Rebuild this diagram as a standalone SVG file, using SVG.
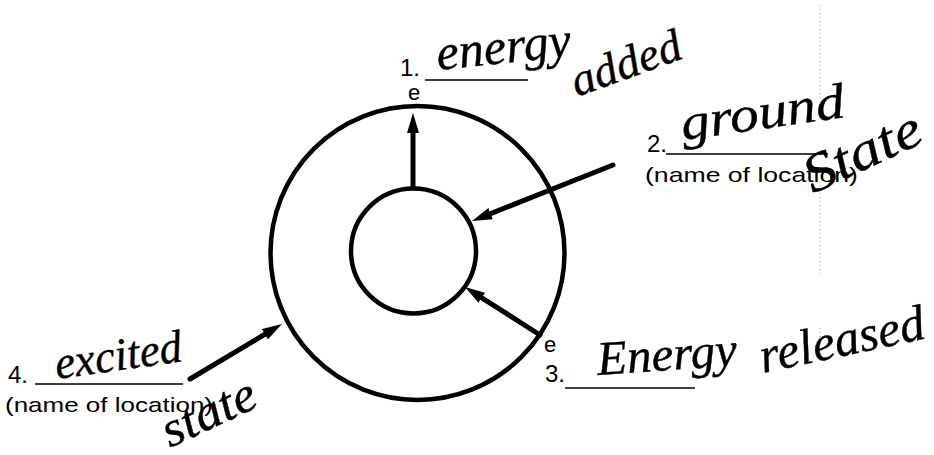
<svg xmlns="http://www.w3.org/2000/svg" width="934" height="455" viewBox="0 0 934 455">
<defs>
<style>
.ring{fill:none;stroke:#000;stroke-width:4.5}
.shaft{fill:none;stroke:#000;stroke-width:5;stroke-linecap:round}
.print{font-family:"Liberation Sans",Arial,sans-serif;fill:#000}
.num{font-size:24px}
.sub{font-size:21px}
.el{font-size:22px}
.uline{stroke:#000;stroke-width:1.6}
.hand{font-family:"Liberation Serif","DejaVu Serif",serif;font-style:italic;fill:#000;stroke:#000;stroke-width:0.4}
.scan{stroke:#9a9a9a;stroke-width:1;stroke-dasharray:1 3}
</style>
<marker id="head" viewBox="0 -6 20 12" refX="0" refY="0" markerWidth="20" markerHeight="12" markerUnits="userSpaceOnUse" orient="auto">
<path d="M0,-6 L20,0 L0,6 z" fill="#000"/>
</marker>
</defs>
<rect width="934" height="455" fill="#fff"/>
<g id="scan-artifacts">
<line class="scan" x1="820" y1="5" x2="820" y2="100"/>
<line class="scan" x1="820" y1="185" x2="820" y2="277"/>
<line class="scan" x1="820" y1="328" x2="820" y2="346"/>
</g>
<g id="outer-shell"><circle class="ring" cx="417.5" cy="253" r="147"/></g>
<g id="nucleus"><circle class="ring" cx="413.5" cy="251" r="62.5"/></g>
<g id="connectors">
<line class="shaft" x1="413" y1="186" x2="413" y2="133" marker-end="url(#head)"/>
<line class="shaft" x1="613" y1="165" x2="490.6" y2="213.6" marker-end="url(#head)"/>
<line class="shaft" x1="540" y1="335" x2="481.8" y2="297.8" marker-end="url(#head)"/>
<line class="shaft" x1="190" y1="379" x2="264.8" y2="334.3" marker-end="url(#head)"/>
</g>
<g id="label-1">
<text class="print num" x="400" y="76">1.</text>
<line class="uline" x1="425" y1="80" x2="528" y2="80"/>
<text class="print el" x="408" y="100">e</text>
<text class="hand" font-size="50" x="438" y="70" textLength="135" lengthAdjust="spacingAndGlyphs" transform="rotate(-6 438 70)">energy</text>
<text class="hand" font-size="46" x="577" y="97" textLength="115" lengthAdjust="spacingAndGlyphs" transform="rotate(-20 577 97)">added</text>
</g>
<g id="label-2">
<text class="print num" x="647" y="152">2.</text>
<line class="uline" x1="666" y1="154" x2="828" y2="154"/>
<text class="print sub" x="645" y="182" textLength="213" lengthAdjust="spacingAndGlyphs">(name of location)</text>
<text class="hand" font-size="50" x="683" y="140" textLength="165" lengthAdjust="spacingAndGlyphs" transform="rotate(-8 683 140)">ground</text>
<text class="hand" font-size="54" x="813" y="194" textLength="125" lengthAdjust="spacingAndGlyphs" transform="rotate(-25 813 194)">State</text>
</g>
<g id="label-3">
<text class="print el" x="544" y="352">e</text>
<text class="print num" x="545" y="382">3.</text>
<line class="uline" x1="565" y1="388" x2="695" y2="388"/>
<text class="hand" font-size="48" x="598" y="375" textLength="140" lengthAdjust="spacingAndGlyphs" transform="rotate(-4 598 375)">Energy</text>
<text class="hand" font-size="50" x="763" y="373" textLength="168" lengthAdjust="spacingAndGlyphs" transform="rotate(-12 763 373)">released</text>
</g>
<g id="label-4">
<text class="print num" x="8" y="383">4.</text>
<line class="uline" x1="35" y1="384" x2="183" y2="384"/>
<text class="print sub" x="5" y="412" textLength="208" lengthAdjust="spacingAndGlyphs">(name of location)</text>
<text class="hand" font-size="46" x="57" y="379" textLength="128" lengthAdjust="spacingAndGlyphs" transform="rotate(-8 57 379)">excited</text>
<text class="hand" font-size="50" x="170" y="448" textLength="100" lengthAdjust="spacingAndGlyphs" transform="rotate(-25 170 448)">state</text>
</g>
</svg>
